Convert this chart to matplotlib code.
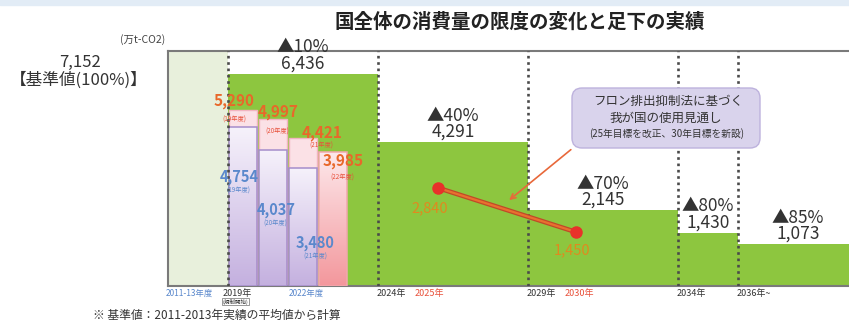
import numpy as np
import matplotlib
matplotlib.use("Agg")
import matplotlib.pyplot as plt
from matplotlib.colors import LinearSegmentedColormap
from matplotlib.patches import FancyBboxPatch, Rectangle

plt.rcParams['font.family'] = ['Noto Sans CJK JP', 'DejaVu Sans']

# --- data (万t-CO2) ---
base_value = 7152
limit_start = [2019, 2024, 2029, 2034, 2036]
limit_end = [2024, 2029, 2034, 2036, 2040]
limit_value = [6436, 4291, 2145, 1430, 1073]
limit_cut = [10, 40, 70, 80, 85]

fiscal_years = [2019, 2020, 2021, 2022]
actual_total = [5290, 4997, 4421, 3985]      # red labels
actual_part = [4754, 4037, 3480]             # blue labels (19-21年度)

outlook_x = [2026.0, 2030.6]
outlook_value = [2840, 1450]

title = "国全体の消費量の限度の変化と足下の実績"

Y0 = -250   # axis floor used by the schematic
GREEN = '#8dc63f'

fig = plt.figure(figsize=(8.49, 3.23), dpi=100)
fig.patches.append(Rectangle((0, 0.985), 1, 0.015, transform=fig.transFigure,
                             color='#e2ecf6', zorder=0))
ax = fig.add_axes([168/849, 37/323, 684/849, 235/323])

# base (reference) block and the stepped limits
ax.bar(2017, base_value - Y0, width=2, bottom=Y0, align='edge',
       color='#e8f0dc', edgecolor='none', zorder=1)
for s, e, v, c in zip(limit_start, limit_end, limit_value, limit_cut):
    ax.bar(s, v - Y0, width=e - s, bottom=Y0, align='edge',
           color=GREEN, edgecolor='none', zorder=1)
    ax.annotate(f"▲{c}%\n{v:,}", xy=((s + e) / 2, v),
                xytext=(0, 1), textcoords='offset points', ha='center', va='bottom',
                fontsize=12.5, linespacing=0.85, color='#333333')

ax.vlines(limit_start, Y0, base_value, colors='#4a4a4a',
          linestyles=(0, (1.0, 1.4)), lw=1.9, zorder=5)


def grad_bar(x, top, w, c_top, c_bot, edge, z):
    bar = ax.bar(x, top - Y0, width=w, bottom=Y0, color='none',
                 edgecolor=edge, lw=1.1, zorder=z + 0.1)[0]
    cmap = LinearSegmentedColormap.from_list('g', [c_bot, c_top])
    im = ax.imshow(np.linspace(0, 1, 256).reshape(-1, 1), origin='lower',
                   extent=[x - w / 2, x + w / 2, Y0, top], cmap=cmap,
                   aspect='auto', zorder=z)
    im.set_clip_path(bar)


# label offsets (points) from each bar top: value label, then year label
red_off = [(-6.5, 6.5), (4, 5), (14, 3.6), (7, -7)]
red_sub_off = [(-6.5, -7), (3, -8.6), (13, -5.8), (7, -19)]
for i, (fy, tot) in enumerate(zip(fiscal_years, actual_total)):
    xc = fy + 0.5
    if i < len(actual_part):
        ax.bar(xc, tot - Y0, width=0.93, bottom=Y0, color='#fbe1e6',
               edgecolor='#f2b3c0', lw=1, zorder=2)
        grad_bar(xc, actual_part[i], 0.93, '#f6f2fb', '#c4b0df', '#a58dcb', 3)
    else:
        grad_bar(xc, tot, 0.93, '#fde9ec', '#f3979c', '#f2a7ae', 3)
    ax.annotate(f"{tot:,}", xy=(xc, tot), xytext=red_off[i],
                textcoords='offset points', ha='center', va='center',
                fontsize=11, fontweight='bold', color='#e8682a', zorder=7)
    ax.annotate(f"({str(fy)[2:]}年度)", xy=(xc, tot), xytext=red_sub_off[i],
                textcoords='offset points', ha='center', va='center',
                fontsize=4.5, color='#e8503a', zorder=7)

blue_off = [(-3, -36), (2, -43), (9, -54)]
for i, part in enumerate(actual_part):
    xc = fiscal_years[i] + 0.5
    dx, dy = blue_off[i]
    ax.annotate(f"{part:,}", xy=(xc, part), xytext=(dx, dy),
                textcoords='offset points', ha='center', va='center',
                fontsize=10.5, fontweight='bold', color='#5a88cc', zorder=7)
    ax.annotate(f"({str(fiscal_years[i])[2:]}年度)", xy=(xc, part), xytext=(dx, dy - 10),
                textcoords='offset points', ha='center', va='center',
                fontsize=4.5, color='#5a88cc', zorder=7)

# outlook line
ax.plot(outlook_x, outlook_value, color='#c04a28', lw=3.4, zorder=6)
ax.plot(outlook_x, outlook_value, color='#e8712f', lw=1.6, zorder=6)
ax.plot(outlook_x, outlook_value, 'o', ms=8, color='#e8322a', zorder=7)
for (x, v), (dx, dy) in zip(zip(outlook_x, outlook_value), [(-6, -15), (-3, -13)]):
    ax.annotate(f"{v:,}", xy=(x, v), xytext=(dx, dy), textcoords='offset points',
                ha='center', va='center', fontsize=10.5, color='#e08a1f', zorder=7)

ax.annotate('', xy=(2028.3, 2400), xytext=(2030.5, 4100),
            arrowprops=dict(arrowstyle='->', color='#e8683a', lw=1.2,
                            mutation_scale=9), zorder=8)

# callout box
box = FancyBboxPatch((5.72, 1.75), 1.88, 0.60, boxstyle='round,pad=0,rounding_size=0.1',
                     transform=fig.dpi_scale_trans, facecolor='#d9d3ec',
                     edgecolor='#bdb2dd', lw=1, zorder=9)
fig.patches.append(box)
fig.text(6.68 / 8.49, 2.22 / 3.23, "フロン排出抑制法に基づく", ha='center', va='center',
         fontsize=9, color='#333333', zorder=10)
fig.text(6.66 / 8.49, 2.05 / 3.23, "我が国の使用見通し", ha='center', va='center',
         fontsize=9, color='#333333', zorder=10)
fig.text(6.67 / 8.49, 1.89 / 3.23, "(25年目標を改正、30年目標を新設)", ha='center', va='center',
         fontsize=7, color='#333333', zorder=10)

# axis cosmetics
ax.set_xlim(2017, 2039.8)
ax.set_ylim(Y0, base_value)
ax.set_xticks([])
ax.set_yticks([])
for side in ['left', 'top', 'bottom']:
    ax.spines[side].set_color('#7a7a7a')
    ax.spines[side].set_linewidth(1.5)
ax.spines['right'].set_visible(False)

# period labels under the axis
tr = ax.get_xaxis_transform()
ax.text(2017.7, -0.03, "2011-13年度", transform=tr, ha='center', va='center',
        fontsize=6, color='#5a88cc')
ax.text(2021.6, -0.03, "2022年度", transform=tr, ha='center', va='center',
        fontsize=6, color='#5a88cc')
period_labels = ["2019年", "2024年", "2029年", "2034年", "2036年~"]
extra_red = {2024: "2025年", 2029: "2030年"}
for s, lab in zip(limit_start, period_labels):
    ax.annotate(lab, xy=(s, -0.03), xycoords=tr, xytext=(-1 if s > 2019 else -4, 0),
                textcoords='offset points', ha='left', va='center', fontsize=6.5,
                color='#333333')
    if s in extra_red:
        ax.annotate(extra_red[s], xy=(s, -0.03), xycoords=tr, xytext=(26, 0),
                    textcoords='offset points', ha='left', va='center', fontsize=6.5,
                    color='#e8503a')
ax.text(2019.25, -0.066, "(規制開始)", transform=tr, ha='center', va='center',
        fontsize=4, color='#333333',
        bbox=dict(boxstyle='square,pad=0.12', fc='white', ec='#888888', lw=0.6))

# titles and side labels
fig.text(520 / 849, 1 - 22 / 323, title, ha='center', va='center',
         fontsize=14, fontweight='bold', color='#222222')
fig.text(80 / 849, 1 - 62 / 323, f"{base_value:,}", ha='center', va='center',
         fontsize=12, color='#333333')
fig.text(79 / 849, 1 - 80 / 323, "【基準値(100%)】", ha='center', va='center',
         fontsize=12, color='#333333')
fig.text(143 / 849, 1 - 40 / 323, "(万t-CO2)", ha='center', va='center',
         fontsize=7.5, color='#444444')
fig.text(93 / 849, 1 - 315 / 323, "※ 基準値：2011-2013年実績の平均値から計算",
         ha='left', va='center', fontsize=8.5, color='#333333')

fig.savefig("out.png", dpi=100)
